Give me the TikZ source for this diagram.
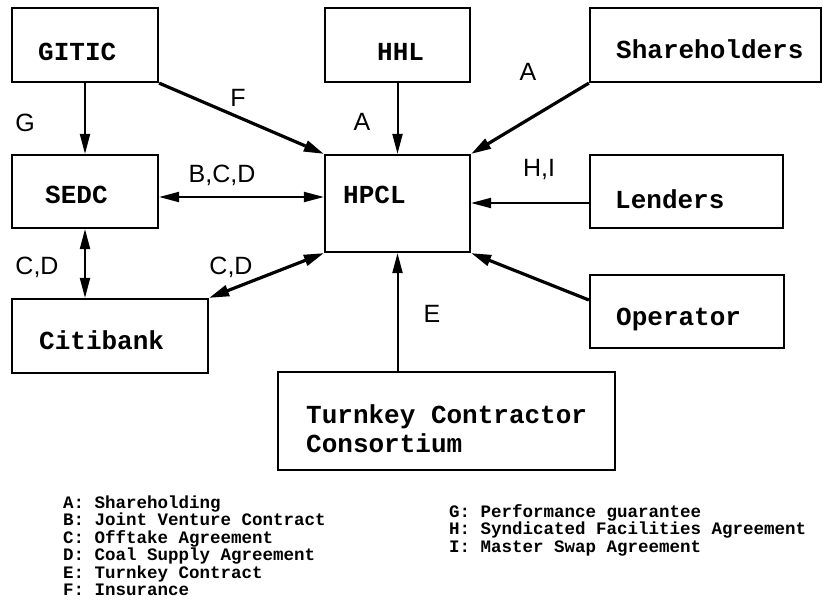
\documentclass[tikz,border=0pt]{standalone}
\usepackage{fontspec}
\setmainfont{Liberation Sans}
\newfontfamily\boxfont{Liberation Mono}
\usetikzlibrary{arrows.meta}
\begin{document}
\begin{tikzpicture}[x=1pt,y=-1pt,
  box/.style={draw, line width=2.2pt, inner sep=0pt},
  boxtext/.style={font=\boxfont\bfseries\fontsize{26}{30}\selectfont, inner sep=0pt, anchor=base west},
  elabel/.style={font=\fontsize{25}{30}\selectfont, inner sep=0pt},
  legendtext/.style={font=\boxfont\bfseries\fontsize{17.5}{17.5}\selectfont, inner sep=0pt, anchor=base west},
  arr/.style={line width=2pt, -{Triangle[length=20pt,width=10pt]}},
  thickarr/.style={line width=3.2pt, -{Triangle[length=20pt,width=11pt]}},
  dbl/.style={line width=2pt, {Triangle[length=20pt,width=10pt]}-{Triangle[length=20pt,width=10pt]}},
  thickdbl/.style={line width=3.2pt, {Triangle[length=20pt,width=11pt]}-{Triangle[length=20pt,width=11pt]}}
]
\useasboundingbox (0,0) rectangle (823,605);

% boxes
\node[box, minimum width=146pt, minimum height=74pt] (gitic) at (85,45) {};
\node[box, minimum width=145pt, minimum height=74pt] (hhl) at (397.5,45) {};
\node[box, minimum width=231pt, minimum height=74pt] (sh) at (705.5,45) {};
\node[box, minimum width=146pt, minimum height=73pt] (sedc) at (85,191.5) {};
\node[box, minimum width=145pt, minimum height=97pt] (hpcl) at (397.5,203.5) {};
\node[box, minimum width=193pt, minimum height=73pt] (lenders) at (686.5,191.5) {};
\node[box, minimum width=196pt, minimum height=74pt] (citi) at (110,336) {};
\node[box, minimum width=194pt, minimum height=73pt] (oper) at (687,311.5) {};
\node[box, minimum width=337pt, minimum height=98pt] (tk) at (446.5,421) {};

% box texts
\node[boxtext] (giticT) at (38,60) {GITIC};
\node[boxtext] (hhlT) at (377,60) {HHL};
\node[boxtext] (shT) at (616,58) {Shareholders};
\node[boxtext] (sedcT) at (45,203) {SEDC};
\node[boxtext] (hpclT) at (343,203) {HPCL};
\node[boxtext] (lendersT) at (615,208) {Lenders};
\node[boxtext] (citiT) at (39,349) {Citibank};
\node[boxtext] (operT) at (616,325) {Operator};
\node[boxtext] (tkT1) at (306,423) {Turnkey Contractor};
\node[boxtext] (tkT2) at (306,452) {Consortium};

% connectors
\draw[arr] (gitic.south) -- (sedc.north);
\draw[thickarr] (gitic.south east) -- (hpcl.north west);
\draw[arr] (hhl.south) -- (hpcl.north);
\draw[thickarr] (sh.south west) -- (hpcl.north east);
\draw[dbl] ([yshift=-5.5pt]sedc.east) -- ([yshift=-5.5pt]sedc.east -| hpcl.west);
\draw[arr] ([yshift=-11.5pt]lenders.west) -- ([yshift=-11.5pt]lenders.west -| hpcl.east);
\draw[dbl] (sedc.south) -- (sedc.south |- citi.north);
\draw[thickdbl] (citi.north east) -- (hpcl.south west);
\draw[arr] (hpcl.south |- tk.north) -- (hpcl.south);
\draw[thickarr] ([yshift=11.5pt]oper.west) -- (hpcl.south east);

% connector labels
\node[elabel] (lG) at (25,123) {G};
\node[elabel] (lF) at (238,98) {F};
\node[elabel] (lA1) at (362,122) {A};
\node[elabel] (lA2) at (528,72) {A};
\node[elabel] (lBCD) at (222,175) {B,C,D};
\node[elabel] (lHI) at (539,169) {H,I};
\node[elabel] (lCD1) at (37,267) {C,D};
\node[elabel] (lCD2) at (231,267) {C,D};
\node[elabel] (lE) at (432,314) {E};

% legend
\node[legendtext] (legA) at (63,508) {A: Shareholding};
\node[legendtext] (legB) at (63,525.5) {B: Joint Venture Contract};
\node[legendtext] (legC) at (63,543) {C: Offtake Agreement};
\node[legendtext] (legD) at (63,560.5) {D: Coal Supply Agreement};
\node[legendtext] (legE) at (63,578) {E: Turnkey Contract};
\node[legendtext] (legF) at (63,595.5) {F: Insurance};
\node[legendtext] (legG) at (449,517) {G: Performance guarantee};
\node[legendtext] (legH) at (449,534.5) {H: Syndicated Facilities Agreement};
\node[legendtext] (legI) at (449,552) {I: Master Swap Agreement};
\end{tikzpicture}
\end{document}
